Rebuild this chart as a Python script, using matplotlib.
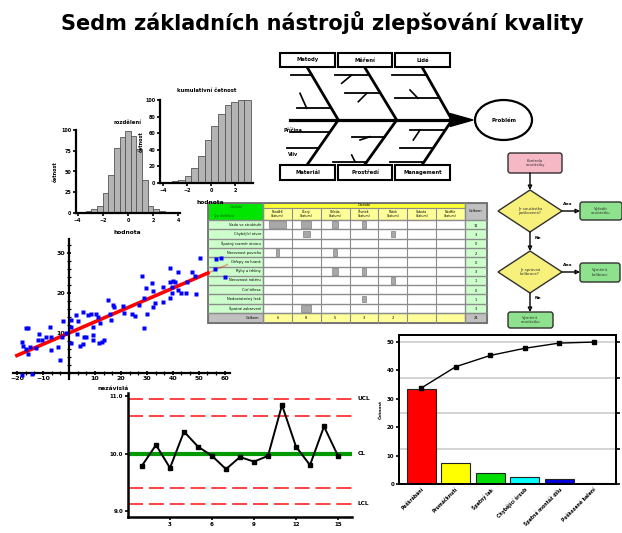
import numpy as np
import matplotlib
matplotlib.use('Agg')
import matplotlib.pyplot as plt
from matplotlib.patches import Rectangle, Polygon, Ellipse, FancyBboxPatch
from matplotlib.ticker import MultipleLocator

plt.rcParams['font.family'] = ['DejaVu Sans']

# ------------------------------------------------------------------ data
title = "Sedm základních nástrojů zlepšování kvality"

# histogram (counts per bin)
hist_title = "rozdělení"
hist_counts = [1, 2, 5, 9, 24, 46, 78, 92, 99, 93, 77, 40, 9, 5, 2, 1, 1]
hist_range = (-3.8, 3.8)
# cumulative histogram (percent)
cum_title = "kumulativní četnost"
cum_percent = [1, 2, 4, 8, 18, 32, 52, 69, 83, 94, 98, 99.6, 100]
cum_range = (-3.83, 3.33)

# scatter
scatter_x = [-16.5, -15.7, -7.3, -18.2, -17.6, -15.0, -16.5, -15.7, -12.7, -11.4,
             -11.8, -10.5, -8.8, -6.7, -6.7, -4.1, -3.5, -2.8, -2.2, -1.2,
             1.0, 1.0, 1.0, 2.7, 3.6, 3.0, 4.2, 5.5, 5.5, 5.8,
             6.5, 7.4, 8.7, 9.3, 9.1, 9.3, 10.4, 11.3, 11.7, 12.6,
             13.5, 11.9, 15.1, 16.0, 17.0, 16.4,
             50.4, 38.8, 42.0, 47.2, 48.5, 28.2, 31.8, 29.6, 32.4, 36.3,
             38.8, 39.9, 40.8, 39.5, 42.0, 43.3, 45.0, 49.1, 45.3, 39.5,
             38.8, 36.3, 33.1, 32.4, 28.8, 27.0, 20.9, 21.2, 24.1, 25.4,
             29.9, 17.3, 28.8,
             -18.2, -14.1, 56.8, 58.7, 56.2, 60.0]
scatter_y = [11.2, 11.2, 11.4, 7.8, 6.8, 6.6, 5.9, 4.8, 6.2, 9.7,
             8.3, 8.3, 9.1, 9.1, 5.8, 6.6, 3.3, 9.1, 13.1, 9.9,
             7.4, 11.4, 13.3, 14.5, 13.1, 9.8, 6.8, 7.3, 15.3, 9.1,
             8.9, 14.5, 14.8, 11.4, 9.5, 8.3, 14.8, 14.1, 7.4, 7.8,
             8.3, 12.6, 18.3, 14.8, 17.0, 13.3,
             28.7, 26.2, 25.2, 25.2, 24.3, 24.3, 22.4, 21.2, 20.6, 21.6,
             22.8, 23.1, 22.8, 21.6, 20.8, 20.1, 20.1, 19.8, 22.8, 19.9,
             18.7, 17.8, 17.4, 16.6, 18.7, 17.0, 16.8, 15.1, 14.8, 14.3,
             14.8, 16.6, 11.2,
             -0.5, -0.3, 28.4, 28.8, 25.9, 23.9]

# fishbone
fish_top = ["Metody", "Měření", "Lidé"]
fish_bottom = ["Materiál", "Prostředí", "Management"]
fish_effect = "Problém"

# check sheet
check_days = ["Pondělí", "Úterý", "Středa", "Čtvrtek", "Pátek", "Sobota", "Neděle"]
check_defects = ["Vada ve struktuře", "Chybějící otvor", "Špatný rozměr otvoru",
                 "Nerovnost povrchu", "Otřepy na hraně", "Rýhy a trhliny",
                 "Nerovnost nátěru", "Cizí tělesa", "Nedostatečný lesk",
                 "Špatné zabarvení"]
check_counts = [[5, 3, 2, 1, 0, 0, 0],
                [0, 2, 0, 0, 1, 0, 0],
                [0, 0, 0, 0, 0, 0, 0],
                [1, 0, 1, 0, 0, 0, 0],
                [0, 0, 0, 0, 0, 0, 0],
                [0, 0, 2, 1, 0, 0, 0],
                [0, 0, 0, 0, 1, 0, 0],
                [0, 0, 0, 0, 0, 0, 0],
                [0, 0, 0, 1, 0, 0, 0],
                [0, 3, 0, 0, 0, 0, 0]]

# flowchart
flow_start = "Kontrola\nsoučástky"
flow_q1 = "Je součástka\npoškozená?"
flow_a1 = "Vyřadit\nsoučástku"
flow_q2 = "Je správná\nkalibrace?"
flow_a2 = "Vyměnit\nkalibraci"
flow_end = "Vyměnit\nsoučástku"

# control chart
ctrl_x = list(range(1, 16))
ctrl_y = [9.79, 10.15, 9.75, 10.38, 10.12, 9.96, 9.73, 9.94, 9.86, 9.96,
          10.84, 10.12, 9.80, 10.47, 9.96]
ctrl_cl = 10.0
ctrl_ucl, ctrl_uwl = 10.95, 10.65
ctrl_lcl, ctrl_lwl = 9.13, 9.40

# pareto
pareto_cats = ["Poškrábání", "Promáčknutí", "Špatný lak", "Chybějící šroub",
               "Špatná montáž dílu", "Poškozené balení"]
pareto_vals = [33.4, 7.4, 3.9, 2.5, 1.8, 0.35]
pareto_colors = ["#ff0000", "#ffff00", "#00dd00", "#00ffff", "#0000dd", "#ff00ff"]

# ------------------------------------------------------------------ figure
W, H = 622, 533
fig = plt.figure(figsize=(W / 100, H / 100), dpi=100)
fig.patch.set_facecolor('white')


def px_axes(l, t, r, b, **kw):
    return fig.add_axes([l / W, 1 - b / H, (r - l) / W, (b - t) / H], **kw)


bg = fig.add_axes([0, 0, 1, 1], zorder=0)
bg.set_xlim(0, W)
bg.set_ylim(H, 0)
bg.axis('off')

bg.text(322, 22, title, ha='center', va='center', fontsize=15, fontweight='bold')

# ---------------- fishbone
LW = 2.0
box_x = [(280, 335), (338, 392), (395, 450)]
meet_x = [338.3, 396.7, 452.0]
for i, (x0, x1) in enumerate(box_x):
    for (y0, y1, lab) in [(53, 67, fish_top[i]), (165, 180, fish_bottom[i])]:
        bg.add_patch(Rectangle((x0, y0), x1 - x0, y1 - y0, fc='white', ec='black', lw=1.5))
        bg.text((x0 + x1) / 2, (y0 + y1) / 2, lab, ha='center', va='center',
                fontsize=3.8, fontweight='bold')
    cx = (x0 + x1) / 2 - 0.5
    bg.plot([cx, meet_x[i]], [67, 120], color='black', lw=LW, solid_capstyle='butt')
    bg.plot([cx, meet_x[i]], [165, 120], color='black', lw=LW, solid_capstyle='butt')

bg.plot([290, 452], [120, 120], color='black', lw=LW + 0.3)
bg.add_patch(Polygon([[450, 113.5], [473, 120], [450, 126.5]], closed=True, fc='black', ec='black'))
bg.add_patch(Ellipse((503.5, 120), 57, 40, fc='white', ec='black', lw=1.6))
bg.text(503.5, 120, fish_effect, ha='center', va='center', fontsize=3.8, fontweight='bold')


def bone_x(i, y, top):
    cx = (box_x[i][0] + box_x[i][1]) / 2 - 0.5
    if top:
        return cx + (y - 67) * (meet_x[i] - cx) / 53.0
    return cx + (165 - y) * (meet_x[i] - cx) / 45.0


sub_bones = [(True, 0, 75, 290.7), (True, 0, 108.3, 296.7),
             (True, 1, 75, 335), (True, 1, 93.3, 345),
             (True, 2, 75, 391.7), (True, 2, 98.3, 395),
             (False, 0, 131.7, 290), (False, 0, 148.3, 286.7),
             (False, 1, 136.7, 351.7), (False, 1, 161.7, 333.3),
             (False, 2, 130, 410), (False, 2, 148.3, 400), (False, 2, 161.7, 390)]
for top, i, y, xs in sub_bones:
    bg.plot([xs, bone_x(i, y, top)], [y, y], color='black', lw=1.3)
twigs = [((300, 93.3), (306.7, 108.3)), ((341.7, 83.3), (351.7, 75)),
         ((358.3, 101.7), (366.7, 93.3)), ((410, 90), (418, 98.3)),
         ((360, 140), (370, 136.7)), ((351.7, 155), (355, 161.7)),
         ((413.3, 140), (420, 130))]
for (a, b) in twigs:
    bg.plot([a[0], b[0]], [a[1], b[1]], color='black', lw=1.2)
bg.text(293, 130, "Příčina", ha='center', va='center', fontsize=3.5, fontweight='bold')
bg.text(293, 154, "Vliv", ha='center', va='center', fontsize=3.5, fontweight='bold')

# ---------------- check sheet (table)
tx0, tx1, ty0, ty1 = 208, 487, 203, 323
lab_x1 = 263
day_x1 = 465
h1, h2 = 208, 220
row_h = (313 - h2) / len(check_defects)
colw = (day_x1 - lab_x1) / len(check_days)
grid_c = '#8c8c8c'

bg.add_patch(Rectangle((tx0, ty0), lab_x1 - tx0, h2 - ty0, fc='#00e600', ec=grid_c, lw=0.8))
bg.add_patch(Rectangle((lab_x1, ty0), day_x1 - lab_x1, h1 - ty0, fc='#ffff33', ec=grid_c, lw=0.8))
bg.add_patch(Rectangle((lab_x1, h1), day_x1 - lab_x1, h2 - h1, fc='#ffff99', ec=grid_c, lw=0.8))
bg.add_patch(Rectangle((day_x1, ty0), tx1 - day_x1, h2 - ty0, fc='#c0c0c0', ec=grid_c, lw=0.8))
bg.add_patch(Rectangle((tx0, h2), lab_x1 - tx0, 313 - h2, fc='#ccffcc', ec='none'))
bg.add_patch(Rectangle((lab_x1, h2), day_x1 - lab_x1, 313 - h2, fc='white', ec='none'))
bg.add_patch(Rectangle((day_x1, h2), tx1 - day_x1, 313 - h2, fc='#ccffcc', ec='none'))
bg.add_patch(Rectangle((tx0, 313), lab_x1 - tx0, ty1 - 313, fc='#c0c0c0', ec=grid_c, lw=0.8))
bg.add_patch(Rectangle((lab_x1, 313), day_x1 - lab_x1, ty1 - 313, fc='#ffff99', ec=grid_c, lw=0.8))
bg.add_patch(Rectangle((day_x1, 313), tx1 - day_x1, ty1 - 313, fc='#c0c0c0', ec=grid_c, lw=0.8))

bg.text(236, 207, "Období", ha='center', va='center', fontsize=2.6, color='#006600')
bg.text(224, 215.5, "Typ defektu", ha='center', va='center', fontsize=2.6, color='#006600')
bg.text(364, 205.5, "Období", ha='center', va='center', fontsize=2.6)
bg.text(476, 211.5, "Celkem", ha='center', va='center', fontsize=2.6)
for j, d in enumerate(check_days):
    xc = lab_x1 + (j + 0.5) * colw
    bg.text(xc, 214, d + "\n(datum)", ha='center', va='center', fontsize=2.3, linespacing=1.0)
    bg.plot([lab_x1 + j * colw] * 2, [h1, ty1], color=grid_c, lw=0.8)
for r, name in enumerate(check_defects):
    y0 = h2 + r * row_h
    bg.plot([tx0, tx1], [y0, y0], color=grid_c, lw=1.0)
    bg.text(lab_x1 - 2, y0 + row_h / 2, name, ha='right', va='center', fontsize=2.6)
    for j, c in enumerate(check_counts[r]):
        if c > 0:
            w = c * 3.3
            xc = lab_x1 + (j + 0.5) * colw
            bg.add_patch(Rectangle((xc - w / 2, y0 + 1.2), w, row_h - 2.4,
                                   fc='#a8a8a8', ec='#808080', lw=0.5))
    bg.text((day_x1 + tx1) / 2, y0 + row_h / 2 + 1, str(sum(check_counts[r])),
            ha='center', va='center', fontsize=2.6)
bg.plot([tx0, tx1], [313, 313], color=grid_c, lw=1.0)
bg.plot([day_x1, day_x1], [ty0, ty1], color=grid_c, lw=1.0)
bg.plot([lab_x1, lab_x1], [ty0, ty1], color=grid_c, lw=1.0)
bg.text(lab_x1 - 4, 318, "Celkem", ha='right', va='center', fontsize=2.6)
for j in range(len(check_days)):
    tot = sum(row[j] for row in check_counts)
    if tot > 0:
        bg.text(lab_x1 + (j + 0.5) * colw, 318, str(tot), ha='center', va='center', fontsize=2.6)
bg.text((day_x1 + tx1) / 2, 318, str(sum(map(sum, check_counts))), ha='center',
        va='center', fontsize=2.6)
bg.add_patch(Rectangle((tx0, ty0), tx1 - tx0, ty1 - ty0, fc='none', ec='#707070', lw=1.3))

# ---------------- flowchart
def rbox(x0, y0, x1, y1, fc, text):
    bg.add_patch(FancyBboxPatch((x0, y0), x1 - x0, y1 - y0, boxstyle="round,pad=0,rounding_size=2.5",
                                fc=fc, ec='#303030', lw=1.0))
    bg.text((x0 + x1) / 2, (y0 + y1) / 2, text, ha='center', va='center',
            fontsize=2.8, linespacing=1.1, color='#333333')


def diamond(cx, cy, hw, hh, text):
    bg.add_patch(Polygon([[cx, cy - hh], [cx + hw, cy], [cx, cy + hh], [cx - hw, cy]],
                         closed=True, fc='#f7f07a', ec='#303030', lw=1.0))
    bg.text(cx, cy, text, ha='center', va='center', fontsize=2.8, linespacing=1.1, color='#333333')


def arrow(x0, y0, x1, y1):
    bg.annotate('', xy=(x1, y1), xytext=(x0, y0),
                arrowprops=dict(arrowstyle='-|>', lw=1.0, ec='black', fc='white',
                                mutation_scale=6, shrinkA=0, shrinkB=0))


rbox(508, 153, 562, 173, '#f6b8c4', flow_start)
diamond(530, 211, 32, 21, flow_q1)
rbox(580, 202, 622, 220, '#8ee28e', flow_a1)
diamond(530, 272, 32, 21, flow_q2)
rbox(580, 263, 620, 282, '#8ee28e', flow_a2)
rbox(508, 312, 553, 328, '#8ee28e', flow_end)
arrow(530, 173, 530, 190)
arrow(562, 211, 580, 211)
arrow(530, 232, 530, 251)
arrow(562, 272, 580, 272)
arrow(530, 293, 530, 312)
for (x, y, t) in [(568, 204, "Ano"), (538, 238, "Ne"), (568, 265, "Ano"), (538, 298, "Ne")]:
    bg.text(x, y, t, ha='center', va='center', fontsize=3.2, fontweight='bold')

# ---------------- histogram
ax1 = px_axes(76, 130, 180, 213)
edges1 = np.linspace(hist_range[0], hist_range[1], len(hist_counts) + 1)
ax1.bar(edges1[:-1], hist_counts, width=np.diff(edges1), align='edge',
        color='#b4b4b4', edgecolor='#555555', linewidth=0.6)
ax1.set_xlim(-4.12, 4.12)
ax1.set_ylim(0, 100)
ax1.set_xticks([-4, -2, 0, 2, 4])
ax1.set_yticks([0, 25, 50, 75, 100])

ax2 = px_axes(160, 100, 253, 183)
edges2 = np.linspace(cum_range[0], cum_range[1], len(cum_percent) + 1)
ax2.bar(edges2[:-1], cum_percent, width=np.diff(edges2), align='edge',
        color='#b4b4b4', edgecolor='#555555', linewidth=0.6)
ax2.set_xlim(-4.25, 3.5)
ax2.set_ylim(0, 100)
ax2.set_xticks([-4, -2, 0, 2])
ax2.set_yticks([0, 20, 40, 60, 80, 100])

for a in (ax1, ax2):
    a.patch.set_alpha(0)
    for s in ('top', 'right'):
        a.spines[s].set_visible(False)
    for s in ('left', 'bottom'):
        a.spines[s].set_linewidth(1.6)
    a.tick_params(labelsize=3.5, width=1.2, length=2.5, pad=1)
    for lab in a.get_xticklabels() + a.get_yticklabels():
        lab.set_fontweight('bold')

ax1.set_title(hist_title, fontsize=3.8, fontweight='bold', pad=4)
ax2.set_title(cum_title, fontsize=3.8, fontweight='bold', pad=6)
ax1.set_ylabel("četnost", fontsize=3.5, fontweight='bold', labelpad=2)
ax2.set_ylabel("četnost", fontsize=3.5, fontweight='bold', labelpad=1)
fig.text(127 / W, 1 - 232 / H, "hodnota", ha='center', va='center', fontsize=4.2, fontweight='bold')
fig.text(210 / W, 1 - 202 / H, "hodnota", ha='center', va='center', fontsize=4.2, fontweight='bold')

# ---------------- scatter
ax3 = px_axes(13, 239, 230, 379, zorder=3)
ax3.patch.set_alpha(0)
sx = np.array(scatter_x)
sy = np.array(scatter_y)
k, q = np.polyfit(sx, sy, 1)
xs1 = np.array([-20, 53.5])
xs2 = np.array([53.5, 61])
ax3.plot(xs1, k * xs1 + q, color='red', lw=2.6, zorder=2)
ax3.plot(xs2, k * xs2 + q, color='red', lw=1.2, alpha=0.35, zorder=2)
ax3.plot(sx, sy, 's', color='#0000ff', ms=2.4, mec='none', zorder=3)
ax3.set_xlim(-21.5, 62)
ax3.set_ylim(-1.5, 33.5)
ax3.spines['left'].set_position(('data', 0))
ax3.spines['bottom'].set_position(('data', 0))
for s in ('top', 'right'):
    ax3.spines[s].set_visible(False)
for s in ('left', 'bottom'):
    ax3.spines[s].set_linewidth(1.6)
ax3.set_xticks([-20, -10, 10, 20, 30, 40, 50, 60])
ax3.set_yticks([10, 20, 30])
ax3.xaxis.set_minor_locator(MultipleLocator(10 / 3))
ax3.yaxis.set_minor_locator(MultipleLocator(2))
ax3.tick_params(which='major', labelsize=4.5, width=1.2, length=3, pad=1, direction='inout')
ax3.tick_params(which='minor', width=0.9, length=2.2, direction='inout')
for lab in ax3.get_xticklabels() + ax3.get_yticklabels():
    lab.set_fontweight('bold')
fig.text(113 / W, 1 - 388 / H, "nezávislá", ha='center', va='center', fontsize=4.2, fontweight='bold')

# ---------------- control chart
ax4 = px_axes(128, 393, 352, 517)
ax4.patch.set_alpha(0)
ax4.set_xlim(0, 16)
ax4.set_ylim(8.9, 11.05)
for v in (ctrl_ucl, ctrl_uwl, ctrl_lwl, ctrl_lcl):
    ax4.axhline(v, color='#ff2020', lw=1.2, dashes=(9, 3.5))
ax4.axhline(ctrl_cl, color='#009900', lw=3)
ax4.plot(ctrl_x, ctrl_y, color='black', lw=1.4, marker='s', ms=2.6)
for s in ('top', 'right'):
    ax4.spines[s].set_visible(False)
for s in ('left', 'bottom'):
    ax4.spines[s].set_linewidth(1.8)
ax4.set_xticks([3, 6, 9, 12, 15])
ax4.set_yticks([9, 10, 11])
ax4.set_yticklabels(["9.0", "10.0", "11.0"])
ax4.tick_params(labelsize=4, width=1.2, length=2.5, pad=1)
for lab in ax4.get_xticklabels() + ax4.get_yticklabels():
    lab.set_fontweight('bold')
for v, t in [(ctrl_ucl, "UCL"), (ctrl_cl, "CL"), (ctrl_lcl, "LCL")]:
    ax4.text(16.4, v, t, ha='left', va='center', fontsize=4.2, fontweight='bold', clip_on=False)

# ---------------- pareto
ax5 = px_axes(399, 335, 616, 484)
ax5.set_xlim(-0.65, 5.65)
ax5.set_ylim(0, 52.5)
for g in (12.5, 25, 37.5, 50):
    ax5.axhline(g, color='#cccccc', lw=1.2, zorder=0)
xb = np.arange(len(pareto_vals))
ax5.bar(xb, pareto_vals, width=0.85, color=pareto_colors, edgecolor='#222222', lw=0.8, zorder=2)
ax5.set_yticks([0, 10, 20, 30, 40, 50])
ax5.set_xticks(xb)
ax5.set_xticklabels(pareto_cats, rotation=45, ha='right', rotation_mode='anchor',
                    fontsize=3.3, fontweight='bold')
ax5.tick_params(axis='y', labelsize=4, width=1.2, length=2.5, pad=1)
ax5.tick_params(axis='x', length=0, pad=2)
for lab in ax5.get_yticklabels():
    lab.set_fontweight('bold')
for s in ax5.spines.values():
    s.set_linewidth(1.4)
ax5.set_ylabel("Četnost", fontsize=3.2, fontweight='bold', labelpad=3)
ax6 = ax5.twinx()
ax6.set_ylim(0, 105)
cum = np.cumsum(pareto_vals) / np.sum(pareto_vals) * 100
ax6.plot(xb, cum, color='black', lw=1.0, marker='s', ms=2.5)
ax6.set_yticks([0, 25, 50, 75, 100])
ax6.tick_params(axis='y', labelright=False, width=1.2, length=3)
for s in ax6.spines.values():
    s.set_linewidth(1.4)

fig.savefig("out.png", dpi=100, facecolor='white')
